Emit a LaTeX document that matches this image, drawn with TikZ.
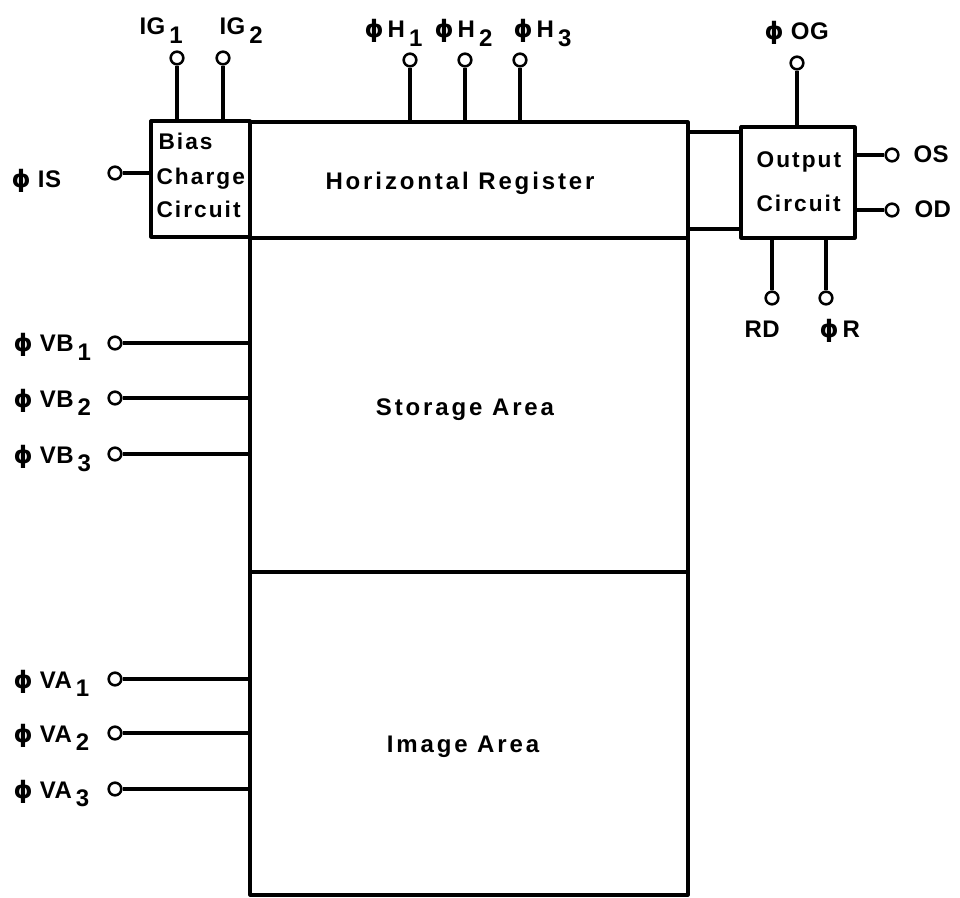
\documentclass[tikz,border=0pt]{standalone}
\usepackage{fontspec}
\newfontfamily\labfont{Liberation Sans}[LetterSpace=2]
\newfontfamily\boxfont{Liberation Sans}[LetterSpace=12]
\newfontfamily\smbfont{Liberation Sans}[LetterSpace=9]
\newfontfamily\phfont{DejaVu Sans}
\newcommand\lowr[1]{\raisebox{-0.65ex}{#1}}
\newcommand\ph{{\phfont\bfseries ϕ}}
\tikzset{
  blk/.style={draw, rectangle, inner sep=0pt, outer sep=0pt, anchor=north west},
  pinc/.style={draw, circle, minimum size=9.5pt, inner sep=0pt, fill=white, line width=1.9pt},
  lab/.style={anchor=base west, inner sep=0pt, font=\labfont\bfseries\fontsize{18}{20}\selectfont},
  txt/.style={anchor=base, inner sep=0pt, font=\boxfont\bfseries\fontsize{18}{20}\selectfont},
  txtl/.style={anchor=base west, inner sep=0pt, font=\smbfont\bfseries\fontsize{17}{20}\selectfont},
}
\begin{document}
\begin{tikzpicture}[x=0.75pt, y=-0.75pt, line width=2.4pt, line join=round]
\useasboundingbox (0,0) rectangle (960,898);
% blocks
\node[blk, minimum width=74.25pt, minimum height=87pt] (bias) at (151,121) {};
\node[blk, minimum width=328.5pt, minimum height=87pt] (hreg) at (250,122) {};
\node[blk, minimum width=328.5pt, minimum height=250.5pt] (stor) at (250,238) {};
\node[blk, minimum width=328.5pt, minimum height=242.25pt] (img) at (250,572) {};
\node[blk, minimum width=85.5pt, minimum height=83.25pt] (outc) at (741,127) {};
% block texts
\node[txtl] (b1) at (157,150) {Bias};
\node[txtl] (b2) at (155,185) {Charge};
\node[txtl] (b3) at (155,218) {Circuit};
\node[txt] (hregt) at (460,190) {Horizontal Register};
\node[txt] (stort) at (465,416) {Storage Area};
\node[txt] (imgt) at (463,752) {Image Area};
\node[txtl] (o1) at (755,168) {Output};
\node[txtl] (o2) at (755,212) {Circuit};
% register to output circuit
\coordinate (c1) at (700,132);
\coordinate (c2) at (700,229);
\draw (hreg.east |- c1) -- (outc.west |- c1);
\draw (hreg.east |- c2) -- (outc.west |- c2);
% pins
\node[pinc] (ig1) at (177,58) {};
\node[pinc] (ig2) at (223,58) {};
\node[pinc] (h1) at (410,60) {};
\node[pinc] (h2) at (465,60) {};
\node[pinc] (h3) at (520,60) {};
\node[pinc] (og) at (797,63) {};
\node[pinc] (is) at (115,173) {};
\node[pinc] (os) at (892,155) {};
\node[pinc] (od) at (892,210) {};
\node[pinc] (rd) at (772,298) {};
\node[pinc] (pr) at (826,298) {};
\node[pinc] (vb1) at (115,343) {};
\node[pinc] (vb2) at (115,398) {};
\node[pinc] (vb3) at (115,454) {};
\node[pinc] (va1) at (115,679) {};
\node[pinc] (va2) at (115,733) {};
\node[pinc] (va3) at (115,789) {};
\draw (ig1) -- (ig1 |- bias.north);
\draw (ig2) -- (ig2 |- bias.north);
\draw (h1) -- (h1 |- hreg.north);
\draw (h2) -- (h2 |- hreg.north);
\draw (h3) -- (h3 |- hreg.north);
\draw (og) -- (og |- outc.north);
\draw (is) -- (is -| bias.west);
\draw (os) -- (os -| outc.east);
\draw (od) -- (od -| outc.east);
\draw (rd) -- (rd |- outc.south);
\draw (pr) -- (pr |- outc.south);
\draw (vb1) -- (vb1 -| stor.west);
\draw (vb2) -- (vb2 -| stor.west);
\draw (vb3) -- (vb3 -| stor.west);
\draw (va1) -- (va1 -| img.west);
\draw (va2) -- (va2 -| img.west);
\draw (va3) -- (va3 -| img.west);
% labels
\node[lab] (lig1) at (138,35) {IG\lowr{\,1}};
\node[lab] (lig2) at (218,35) {IG\lowr{\,2}};
\node[lab] (lh1) at (363,38) {\ph\,H\lowr{\,1}};
\node[lab] (lh2) at (433,38) {\ph\,H\lowr{\,2}};
\node[lab] (lh3) at (512,38) {\ph\,H\lowr{\,3}};
\node[lab] (log) at (763,40) {\ph\ OG};
\node[lab] (lis) at (10,188) {\ph\ IS};
\node[lab] (los) at (912,163) {OS};
\node[lab] (lod) at (913,218) {OD};
\node[lab] (lrd) at (743,338) {RD};
\node[lab] (lpr) at (818,338) {\ph\,R};
\node[lab] (lvb1) at (12,352) {\ph\ VB\lowr{\,1}};
\node[lab] (lvb2) at (12,407) {\ph\ VB\lowr{\,2}};
\node[lab] (lvb3) at (12,463) {\ph\ VB\lowr{\,3}};
\node[lab] (lva1) at (12,688) {\ph\ VA\lowr{\,1}};
\node[lab] (lva2) at (12,742) {\ph\ VA\lowr{\,2}};
\node[lab] (lva3) at (12,798) {\ph\ VA\lowr{\,3}};
\end{tikzpicture}
\end{document}
